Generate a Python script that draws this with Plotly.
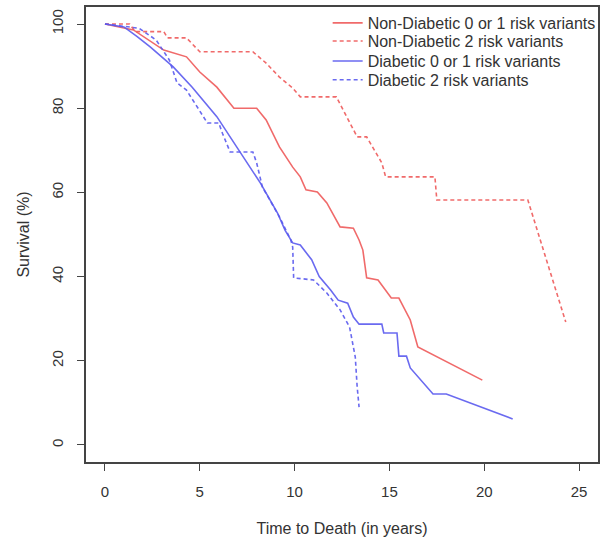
import plotly.graph_objects as go

# Non-Diabetic 0 or 1 risk variants
nd01_t = [0, 1.5, 3.1, 4.3, 5.0, 5.9, 6.8, 8.0, 8.5, 9.2, 9.9, 10.3, 10.6, 11.2, 11.7, 12.4, 13.1, 13.4, 13.6, 13.8, 14.4, 15.1, 15.5, 16.1, 16.5, 19.9]
nd01_s = [100, 98.6, 93.8, 92.2, 88.6, 85, 80, 80, 77.2, 70.8, 66, 63.7, 60.6, 60.1, 57.5, 51.8, 51.5, 48.7, 46.3, 39.7, 39.2, 34.9, 34.9, 29.7, 23.3, 15.4]

# Non-Diabetic 2 risk variants
nd2_t = [0, 1.3, 1.6, 3.1, 3.3, 4.3, 5.0, 7.8, 8.5, 9.2, 9.9, 10.3, 12.2, 13.3, 13.8, 14.6, 14.8, 17.4, 17.5, 22.3, 24.3]
nd2_s = [100, 100, 98.2, 98.2, 96.7, 96.7, 93.4, 93.4, 90.7, 87.4, 84.8, 82.7, 82.7, 73.2, 73.2, 67, 63.7, 63.7, 58.2, 58.2, 29.2]

# Diabetic 0 or 1 risk variants
d01_t = [0, 1.0, 1.7, 2.4, 3.6, 4.6, 5.9, 6.8, 8.2, 9.1, 9.5, 9.9, 10.3, 10.9, 11.3, 11.9, 12.3, 12.8, 13.1, 13.4, 14.6, 14.7, 15.4, 15.5, 15.9, 16.1, 17.3, 18.0, 21.5]
d01_s = [100, 99.3, 97, 94.5, 89.8, 85, 78, 71.7, 62.2, 55.1, 51, 48, 47.5, 44, 40, 36.8, 34.4, 33.7, 30.4, 28.7, 28.7, 26.6, 26.6, 21.1, 21.1, 18.3, 12.1, 12.1, 6.2]

# Diabetic 2 risk variants
d2_t = [0, 1.8, 2.7, 3.4, 3.8, 4.3, 5.4, 6.0, 6.2, 6.6, 7.8, 8.0, 8.3, 9.2, 9.8, 9.9, 9.95, 11.0, 11.7, 12.4, 12.9, 13.2, 13.3, 13.4]
d2_s = [100, 99, 96.2, 91.4, 86, 84.3, 76.5, 76.5, 74, 69.6, 69.6, 67, 61.3, 54.2, 48.7, 47, 39.7, 39.2, 36.1, 32.1, 28, 20.9, 13.8, 9]

names = ["Non-Diabetic 0 or 1 risk variants", "Non-Diabetic 2 risk variants",
         "Diabetic 0 or 1 risk variants", "Diabetic 2 risk variants"]
x_ticks = [0, 5, 10, 15, 20, 25]
y_ticks = [0, 20, 40, 60, 80, 100]

RED = "rgba(238,90,90,0.9)"
BLUE = "rgba(90,90,238,0.9)"

fig = go.Figure()
series = [(nd01_t, nd01_s, RED, "solid"), (nd2_t, nd2_s, RED, "4px,3px"),
          (d01_t, d01_s, BLUE, "solid"), (d2_t, d2_s, BLUE, "4px,3px")]
legend_ids = ["legend", "legend2", "legend3", "legend4"]
for (t, s, c, d), n, lg in zip(series, names, legend_ids):
    fig.add_trace(go.Scatter(x=t, y=s, mode="lines", name=n, legend=lg,
                             line=dict(color=c, width=1.6, dash=d)))

axis_common = dict(showline=True, linecolor="#444", linewidth=1.5, mirror=True,
                   ticks="outside", ticklen=7, tickcolor="#444", tickwidth=1.2,
                   showgrid=False, zeroline=False, automargin=False,
                   tickfont=dict(size=15, color="#333"))

leg_style = dict(x=0.472, xanchor="left", yanchor="middle",
                 bgcolor="rgba(0,0,0,0)", borderwidth=0,
                 font=dict(size=16, color="#333"))
leg_y = [0.965, 0.925, 0.881, 0.840]

fig.update_layout(
    width=600, height=540, autosize=False,
    margin=dict(l=86, r=2, t=7, b=78, autoexpand=False),
    paper_bgcolor="white", plot_bgcolor="white",
    font=dict(family="Liberation Sans, Arial, sans-serif", color="#333"),
    xaxis=dict(range=[-1.0, 26.0], tickvals=x_ticks, ticklabelstandoff=8,
               title=dict(text="Time to Death (in years)", font=dict(size=16), standoff=24),
               **axis_common),
    yaxis=dict(range=[-4.04, 104.04], tickvals=y_ticks, tickangle=-90, ticklabelstandoff=8,
               title=dict(text="Survival (%)", font=dict(size=16), standoff=16),
               **axis_common),
    legend=dict(y=leg_y[0], **leg_style),
    legend2=dict(y=leg_y[1], **leg_style),
    legend3=dict(y=leg_y[2], **leg_style),
    legend4=dict(y=leg_y[3], **leg_style),
    showlegend=True,
)

fig.write_html(
    "out.html",
    config={"responsive": False, "displayModeBar": False},
    post_script=("document.documentElement.style.overflow='hidden';"
                 "document.body.style.margin='0';"
                 "document.body.style.overflow='hidden';"),
)
